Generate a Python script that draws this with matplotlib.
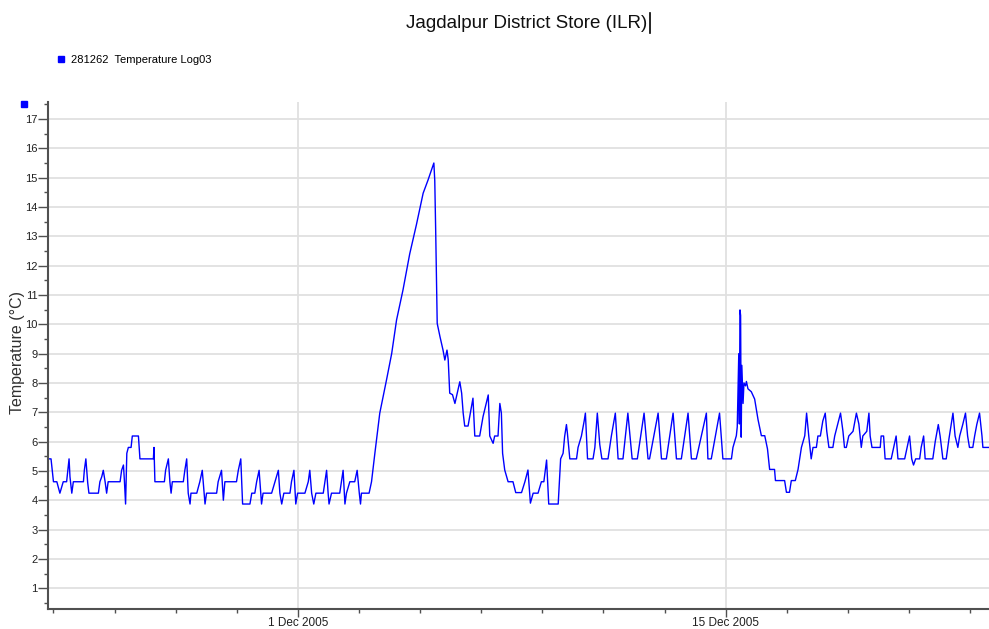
import numpy as np
import matplotlib
matplotlib.use("Agg")
import matplotlib.pyplot as plt
import matplotlib.dates as mdates
from matplotlib.lines import Line2D

plt.rcParams['font.family'] = ['Liberation Sans', 'DejaVu Sans']

title = "Jagdalpur District Store (ILR)"
series_name = "281262  Temperature Log03"
y_label = "Temperature (°C)"

# logger readings: days relative to 1 Dec 2005 00:00, temperature in degC
days = [
    -8.17, -8.08, -8.04, -8.00, -7.89, -7.79, -7.73, -7.68, -7.57, -7.49,
    -7.46, -7.40, -7.35, -7.02, -6.99, -6.94, -6.88, -6.84, -6.53, -6.48,
    -6.42, -6.37, -6.31, -6.26, -6.21, -5.82, -5.77, -5.71, -5.68, -5.64,
    -5.60, -5.55, -5.46, -5.42, -5.22, -5.17, -4.73, -4.71, -4.68, -4.37,
    -4.33, -4.24, -4.19, -4.15, -4.11, -3.75, -3.70, -3.64, -3.59, -3.53,
    -3.50, -3.31, -3.21, -3.13, -3.07, -3.04, -2.99, -2.66, -2.61, -2.50,
    -2.44, -2.39, -2.01, -1.95, -1.87, -1.81, -1.57, -1.51, -1.41, -1.35,
    -1.27, -1.19, -1.14, -0.86, -0.75, -0.64, -0.59, -0.53, -0.46, -0.26,
    -0.21, -0.13, -0.07, -0.01, 0.23, 0.34, 0.39, 0.45, 0.52, 0.59,
    0.83, 0.94, 0.99, 1.02, 1.10, 1.37, 1.48, 1.54, 1.59, 1.70,
    1.86, 1.94, 2.01, 2.05, 2.08, 2.33, 2.41,
    # warm excursion
    2.52, 2.68, 2.90, 3.07, 3.23, 3.44, 3.66, 3.88, 4.10, 4.26,
    4.37, 4.45, 4.48, 4.51, 4.56, 4.65, 4.75, 4.81, 4.88, 4.92,
    4.97, 5.06, 5.14, 5.30, 5.36, 5.41, 5.46, 5.57, 5.68, 5.73,
    5.79, 5.95, 6.06, 6.23, 6.28, 6.39, 6.44, 6.55, 6.61, 6.66,
    6.70, 6.77, 6.88, 7.04, 7.13, 7.32, 7.43, 7.53, 7.61, 7.70,
    7.86, 7.97, 8.05, 8.14, 8.21, 8.52,
    # regular cycling 5.4 - 7.0
    8.57, 8.60, 8.68, 8.73, 8.79, 8.82, 8.87, 8.90, 9.12, 9.17,
    9.28, 9.37, 9.41, 9.48, 9.66, 9.72, 9.80, 9.88, 9.95, 10.15,
    10.26, 10.39, 10.48, 10.64, 10.80, 10.94, 11.11, 11.33, 11.46, 11.51,
    11.79, 11.90, 12.06, 12.28, 12.39, 12.55, 12.77, 12.88, 13.04, 13.37,
    13.42, 13.53, 13.80, 13.91, 14.19,
    # spike and dip after 15 Dec
    14.24, 14.35, 14.38, 14.43, 14.45, 14.47, 14.49, 14.51, 14.53, 14.57,
    14.60, 14.65, 14.68, 14.73, 14.84, 14.95, 15.06, 15.17, 15.28, 15.37,
    15.44, 15.60, 15.63, 15.93, 15.99, 16.09, 16.15, 16.28, 16.37, 16.48,
    16.59, 16.65, 16.72, 16.80,
    # last week
    16.86, 16.97, 17.02, 17.10, 17.18, 17.26, 17.31, 17.38, 17.51, 17.57,
    17.67, 17.76, 17.84, 17.89, 17.95, 18.03, 18.17, 18.28, 18.36, 18.44,
    18.49, 18.62, 18.69, 18.73, 18.79, 19.06, 19.09, 19.17, 19.22, 19.42,
    19.50, 19.58, 19.64, 19.86, 19.94, 20.02, 20.09, 20.15, 20.22, 20.35,
    20.40, 20.48, 20.53, 20.78, 20.86, 20.96, 21.02, 21.11, 21.22, 21.31,
    21.38, 21.44, 21.51, 21.60, 21.66, 21.76, 21.85, 21.92, 21.98, 22.09,
    22.15, 22.22, 22.31, 22.39, 22.42, 22.60,
]

temps = [
    5.41, 5.41, 5.02, 4.63, 4.63, 4.24, 4.45, 4.63, 4.63, 5.41,
    4.80, 4.24, 4.63, 4.63, 5.02, 5.41, 4.60, 4.24, 4.24, 4.63,
    4.80, 5.02, 4.63, 4.24, 4.63, 4.63, 5.02, 5.20, 4.70, 3.87,
    5.60, 5.80, 5.80, 6.19, 6.19, 5.41, 5.41, 5.80, 4.63, 4.63,
    5.02, 5.41, 4.63, 4.24, 4.63, 4.63, 5.02, 5.41, 4.24, 3.87,
    4.24, 4.24, 4.63, 5.02, 4.24, 3.87, 4.24, 4.24, 4.63, 5.02,
    4.00, 4.63, 4.63, 5.02, 5.41, 3.87, 3.87, 4.24, 4.24, 4.63,
    5.02, 3.87, 4.24, 4.24, 4.63, 5.02, 4.24, 3.87, 4.24, 4.24,
    4.63, 5.02, 3.87, 4.24, 4.24, 4.63, 5.02, 4.24, 3.87, 4.24,
    4.24, 5.02, 4.24, 3.87, 4.24, 4.24, 5.02, 3.87, 4.24, 4.63,
    4.63, 5.02, 4.24, 3.87, 4.24, 4.24, 4.63,
    5.60, 6.97, 8.10, 9.00, 10.15, 11.17, 12.40, 13.40, 14.47, 14.92,
    15.26, 15.50, 14.90, 13.20, 10.03, 9.58, 9.12, 8.78, 9.12, 8.80,
    7.65, 7.60, 7.30, 8.04, 7.65, 6.97, 6.53, 6.53, 7.19, 7.48,
    6.19, 6.19, 6.85, 7.59, 6.19, 5.94, 6.19, 6.19, 7.30, 6.97,
    5.60, 5.03, 4.63, 4.63, 4.26, 4.26, 4.63, 5.03, 3.90, 4.24,
    4.24, 4.63, 4.63, 5.37, 3.87, 3.87,
    4.87, 5.41, 5.60, 6.17, 6.58, 6.30, 5.77, 5.41, 5.41, 5.80,
    6.19, 6.70, 6.97, 5.41, 5.41, 5.80, 6.97, 5.90, 5.41, 5.41,
    6.19, 6.97, 5.41, 5.41, 6.97, 5.41, 5.41, 6.97, 5.41, 5.41,
    6.97, 5.41, 5.41, 6.97, 5.41, 5.41, 6.97, 5.41, 5.41, 6.97,
    5.41, 5.41, 6.97, 5.41, 5.41,
    5.80, 6.20, 6.50, 9.00, 6.60, 10.49, 10.30, 6.15, 8.60, 7.30,
    8.00, 7.90, 8.05, 7.80, 7.70, 7.45, 6.75, 6.20, 6.20, 5.75,
    5.05, 5.05, 4.67, 4.67, 4.27, 4.27, 4.67, 4.67, 5.05, 5.80,
    6.20, 6.97, 6.20, 5.41,
    5.80, 5.80, 6.19, 6.19, 6.70, 6.97, 6.35, 5.80, 5.80, 6.19,
    6.60, 6.97, 6.35, 5.80, 5.80, 6.19, 6.35, 6.97, 6.60, 5.80,
    6.19, 6.35, 6.97, 6.19, 5.80, 5.80, 6.19, 6.19, 5.41, 5.41,
    5.80, 6.19, 5.41, 5.41, 5.80, 6.19, 5.41, 5.20, 5.41, 5.41,
    5.80, 6.19, 5.41, 5.41, 6.00, 6.58, 6.19, 5.41, 5.41, 6.10,
    6.58, 6.97, 6.19, 5.80, 6.19, 6.58, 6.97, 6.19, 5.80, 5.80,
    6.19, 6.58, 6.97, 6.19, 5.80, 5.80,
]

start = np.datetime64('2005-12-01T00:00')
times = start + (np.array(days) * 24 * 60).astype('timedelta64[m]')

fig = plt.figure(figsize=(9.89, 6.29), dpi=100)
ax = fig.add_axes([0.0485, 0.0318, 0.9515, 0.806])

ax.plot(times, temps, color='#0000ff', lw=1.0)

ax.set_xlim(start + np.timedelta64(int(-8.18 * 1440), 'm'),
            start + np.timedelta64(int(22.62 * 1440), 'm'))
ax.set_ylim(0.29, 17.58)

ax.xaxis.set_major_locator(mdates.DayLocator(bymonthday=[1, 15]))
ax.xaxis.set_major_formatter(mdates.DateFormatter('%-d %b %Y'))
ax.xaxis.set_minor_locator(mdates.DayLocator(interval=2, bymonthday=range(1, 32, 2)))
ax.set_yticks(range(1, 18))
ax.set_yticks(np.arange(0.5, 17.6, 0.5), minor=True)

ax.grid(True, which='major', color='#e0e0e0', lw=1.3)
ax.set_axisbelow(True)
for s in ['top', 'right']:
    ax.spines[s].set_visible(False)
for s in ['left', 'bottom']:
    ax.spines[s].set_color('#505050')
    ax.spines[s].set_linewidth(1.5)

ax.tick_params(which='major', length=7, width=1, color='#505050', labelsize=8.5, labelcolor='#202020', pad=1)
ax.tick_params(axis='x', which='major', length=5.5, pad=0)
ax.tick_params(axis='y', which='major', labelsize=8, pad=0.5)
ax.tick_params(which='minor', length=3, width=1, color='#505050')

ax.set_ylabel(y_label, fontsize=11.5, color='#303030')
ax.yaxis.set_label_coords(-0.024, 0.505)

fig.text(0.532, 0.963, title, ha='center', va='center', fontsize=13.5, color='#101010')
fig.add_artist(Line2D([0.657, 0.657], [0.947, 0.979], color='black', lw=1.2, transform=fig.transFigure))

handle = Line2D([], [], marker='s', ls='', color='#0000ff', markersize=4)
fig.legend([handle], [series_name], loc='center left', bbox_to_anchor=(0.045, 0.905),
           frameon=False, fontsize=8, handletextpad=0.3, handlelength=1.2)

fig.add_artist(Line2D([0.0243], [0.8347], marker='s', ls='', color='#0000ff',
                      markersize=4.5, transform=fig.transFigure))

fig.savefig('out.png', dpi=100)
